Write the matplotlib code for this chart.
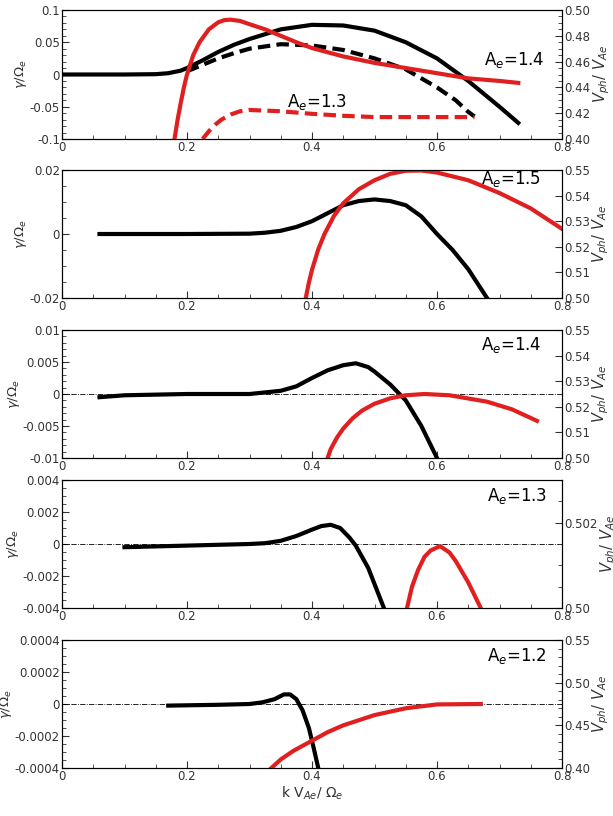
import matplotlib
matplotlib.use("Agg")
import matplotlib.pyplot as plt
from matplotlib.ticker import MultipleLocator

# Panel 1
p1_bs_x = [0.0,0.05,0.1,0.15,0.17,0.19,0.2,0.225,0.25,0.275,0.3,0.35,0.4,0.45,0.5,0.55,0.6,0.65,0.7,0.73]
p1_bs_y = [0,0,0,0.0005,0.002,0.006,0.01,0.022,0.035,0.046,0.055,0.07,0.077,0.076,0.068,0.05,0.025,-0.01,-0.05,-0.075]
p1_bd_x = [0.2,0.225,0.25,0.275,0.3,0.35,0.4,0.45,0.5,0.55,0.6,0.63,0.65,0.66]
p1_bd_y = [0.005,0.015,0.025,0.033,0.04,0.047,0.045,0.038,0.025,0.008,-0.02,-0.04,-0.058,-0.065]
p1_rs_x = [0.18,0.185,0.19,0.195,0.2,0.21,0.22,0.235,0.25,0.26,0.27,0.285,0.3,0.325,0.35,0.375,0.4,0.45,0.5,0.55,0.6,0.65,0.7,0.73]
p1_rs_y = [0.40,0.415,0.428,0.44,0.45,0.465,0.475,0.485,0.4905,0.4922,0.4925,0.4915,0.489,0.485,0.48,0.475,0.4705,0.464,0.459,0.455,0.451,0.447,0.445,0.4435]
p1_rd_x = [0.225,0.235,0.245,0.255,0.27,0.285,0.3,0.35,0.4,0.45,0.5,0.55,0.6,0.66]
p1_rd_y = [0.40,0.406,0.411,0.415,0.419,0.4215,0.4225,0.4215,0.4195,0.418,0.417,0.417,0.417,0.417]
# Panel 2
p2_b_x = [0.06,0.1,0.2,0.3,0.325,0.35,0.375,0.4,0.425,0.45,0.475,0.5,0.525,0.55,0.575,0.6,0.625,0.65,0.68]
p2_b_y = [0,0,0,0.0001,0.0004,0.001,0.0022,0.004,0.0065,0.009,0.0103,0.0108,0.0103,0.009,0.0055,0.0,-0.005,-0.011,-0.02]
p2_r_x = [0.39,0.395,0.4,0.41,0.42,0.435,0.45,0.475,0.5,0.525,0.55,0.575,0.6,0.65,0.7,0.75,0.8]
p2_r_y = [0.50,0.506,0.511,0.519,0.525,0.532,0.537,0.5425,0.546,0.5485,0.5497,0.5498,0.549,0.546,0.541,0.535,0.527]
# Panel 3
p3_b_x = [0.06,0.1,0.2,0.3,0.35,0.375,0.4,0.425,0.45,0.47,0.49,0.5,0.525,0.55,0.575,0.6]
p3_b_y = [-0.0005,-0.0002,0,0,0.0005,0.0012,0.0025,0.0037,0.0045,0.0048,0.0042,0.0035,0.0015,-0.001,-0.005,-0.01]
p3_r_x = [0.425,0.43,0.44,0.45,0.465,0.48,0.5,0.525,0.55,0.58,0.62,0.68,0.72,0.76]
p3_r_y = [0.50,0.5035,0.508,0.5115,0.5155,0.5185,0.5212,0.5233,0.5245,0.525,0.5245,0.522,0.519,0.5145]
# Panel 4
p4_b_x = [0.1,0.2,0.3,0.325,0.35,0.375,0.4,0.415,0.43,0.445,0.46,0.47,0.48,0.49,0.5,0.515]
p4_b_y = [-0.0002,-0.0001,0,0.00005,0.0002,0.0005,0.0009,0.00112,0.0012,0.001,0.0004,-0.0001,-0.0008,-0.0015,-0.0025,-0.004]
p4_r_x = [0.552,0.56,0.57,0.58,0.59,0.605,0.62,0.63,0.64,0.65,0.66,0.67]
p4_r_y = [0.500,0.5005,0.5009,0.5012,0.50135,0.50145,0.5013,0.5011,0.50085,0.5006,0.5003,0.500]
# Panel 5
p5_b_x = [0.17,0.25,0.3,0.32,0.34,0.355,0.365,0.375,0.385,0.395,0.403,0.41]
p5_b_y = [-0.00001,-0.000005,0,0.00001,0.00003,0.00006,0.00006,0.00003,-0.00004,-0.00015,-0.00028,-0.0004]
p5_r_x = [0.335,0.35,0.37,0.4,0.425,0.45,0.5,0.55,0.6,0.67]
p5_r_y = [0.40,0.41,0.42,0.432,0.442,0.45,0.462,0.47,0.4745,0.475]

RED = "#e02020"
fig = plt.figure(figsize=(6.13, 8.16), dpi=100)
W, H = 613, 816
panels = [(10,139),(170,298),(330,458),(480,608),(640,768)]
axes = [fig.add_axes([62/W, 1-b/H, 500/W, (b-t)/H]) for (t, b) in panels]

def style(ax, ax2, ylim, yticks, ylabels, yminor, r_lim, r_ticks, r_labels, r_minor):
    ax.set_xlim(0, 0.8)
    ax.xaxis.set_major_locator(MultipleLocator(0.2))
    ax.xaxis.set_minor_locator(MultipleLocator(0.05))
    ax.set_ylim(*ylim)
    ax.set_yticks(yticks)
    ax.set_yticklabels(ylabels)
    ax.yaxis.set_minor_locator(MultipleLocator(yminor))
    ax2.set_ylim(*r_lim)
    ax2.set_yticks(r_ticks)
    ax2.set_yticklabels(r_labels)
    ax2.yaxis.set_minor_locator(MultipleLocator(r_minor))
    for a in (ax, ax2):
        a.tick_params(which="both", direction="in", labelsize=8.5, colors="#333333", pad=1.5)
        a.tick_params(which="major", length=5)
        a.tick_params(which="minor", length=3)
    ax.set_ylabel(r"$\gamma/\Omega_e$", fontsize=9.5, labelpad=0.5, color="#333333")
    ax2.set_ylabel(r"$V_{ph}/\ V_{Ae}$", fontsize=10.5, labelpad=0.5, color="#333333")
    ax.xaxis.set_major_formatter(matplotlib.ticker.FuncFormatter(lambda v, p: "0" if abs(v) < 1e-9 else f"{v:.1f}"))

lw = 3
ax = axes[0]; ax2 = ax.twinx()
ax.plot(p1_bs_x, p1_bs_y, color="k", lw=lw)
ax.plot(p1_bd_x, p1_bd_y, color="k", lw=lw, ls=(0,(3,1.5)))
ax2.plot(p1_rs_x, p1_rs_y, color=RED, lw=lw)
ax2.plot(p1_rd_x, p1_rd_y, color=RED, lw=lw, ls=(0,(3,1.5)))
style(ax, ax2, (-0.1,0.1), [-0.1,-0.05,0,0.05,0.1], ["-0.1","-0.05","0","0.05","0.1"], 0.01,
      (0.40,0.50), [0.40,0.42,0.44,0.46,0.48,0.50], ["0.40","0.42","0.44","0.46","0.48","0.50"], 0.005)
ax.text(0.675, 0.015, r"A$_e$=1.4", fontsize=12)
ax.text(0.36, -0.05, r"A$_e$=1.3", fontsize=12)

ax = axes[1]; ax2 = ax.twinx()
ax.plot(p2_b_x, p2_b_y, color="k", lw=lw)
ax2.plot(p2_r_x, p2_r_y, color=RED, lw=lw)
style(ax, ax2, (-0.02,0.02), [-0.02,0,0.02], ["-0.02","0","0.02"], 0.005,
      (0.50,0.55), [0.50,0.51,0.52,0.53,0.54,0.55], ["0.50","0.51","0.52","0.53","0.54","0.55"], 0.01)
ax.text(0.67, 0.0155, r"A$_e$=1.5", fontsize=12)

ax = axes[2]; ax2 = ax.twinx()
ax.axhline(0, color="k", lw=0.6, ls="-.")
ax.plot(p3_b_x, p3_b_y, color="k", lw=lw)
ax2.plot(p3_r_x, p3_r_y, color=RED, lw=lw)
style(ax, ax2, (-0.01,0.01), [-0.01,-0.005,0,0.005,0.01], ["-0.01","-0.005","0","0.005","0.01"], 0.001,
      (0.50,0.55), [0.50,0.51,0.52,0.53,0.54,0.55], ["0.50","0.51","0.52","0.53","0.54","0.55"], 0.01)
ax.text(0.67, 0.0068, r"A$_e$=1.4", fontsize=12)

ax = axes[3]; ax2 = ax.twinx()
ax.axhline(0, color="k", lw=0.6, ls="-.")
ax.plot(p4_b_x, p4_b_y, color="k", lw=lw)
ax2.plot(p4_r_x, p4_r_y, color=RED, lw=lw)
style(ax, ax2, (-0.004,0.004), [-0.004,-0.002,0,0.002,0.004], ["-0.004","-0.002","0","0.002","0.004"], 0.0005,
      (0.50,0.503), [0.50,0.502], ["0.50","0.502"], 0.0005)
ax.text(0.68, 0.0027, r"A$_e$=1.3", fontsize=12)

ax = axes[4]; ax2 = ax.twinx()
ax.axhline(0, color="k", lw=0.6, ls="-.")
ax.plot(p5_b_x, p5_b_y, color="k", lw=lw)
ax2.plot(p5_r_x, p5_r_y, color=RED, lw=lw)
style(ax, ax2, (-0.0004,0.0004), [-0.0004,-0.0002,0,0.0002,0.0004], ["-0.0004","-0.0002","0","0.0002","0.0004"], 0.00005,
      (0.40,0.55), [0.40,0.45,0.50,0.55], ["0.40","0.45","0.50","0.55"], 0.01)
ax.text(0.68, 0.00027, r"A$_e$=1.2", fontsize=12)
ax.set_xlabel(r"k V$_{Ae}$/ $\Omega_e$", fontsize=10, labelpad=1, color="#333333")

fig.savefig("out.png", dpi=100)
